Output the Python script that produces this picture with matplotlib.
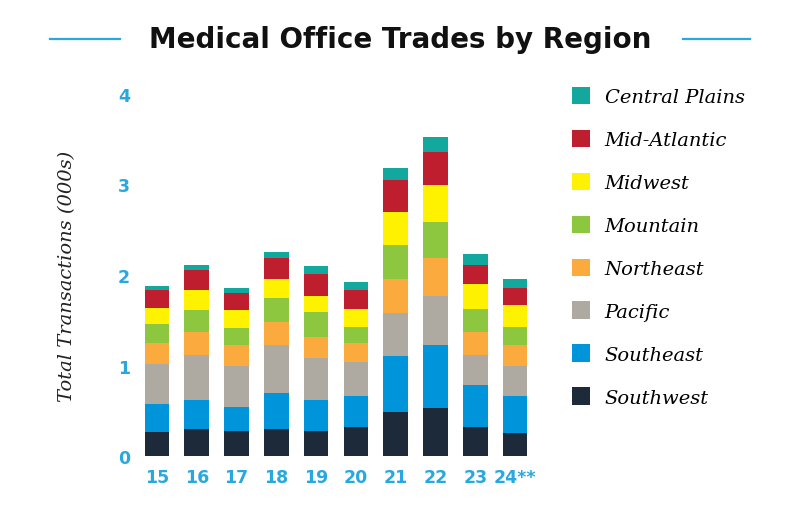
import matplotlib
matplotlib.use("Agg")
import matplotlib.pyplot as plt
import numpy as np
from matplotlib.lines import Line2D
from matplotlib.patches import Patch

years = ["15", "16", "17", "18", "19", "20", "21", "22", "23", "24**"]
regions = ["Southwest", "Southeast", "Pacific", "Northeast", "Mountain", "Midwest", "Mid-Atlantic", "Central Plains"]

southwest = [0.26, 0.30, 0.28, 0.30, 0.28, 0.32, 0.49, 0.53, 0.32, 0.25]
southeast = [0.32, 0.32, 0.26, 0.40, 0.34, 0.34, 0.61, 0.70, 0.47, 0.41]
pacific = [0.44, 0.50, 0.45, 0.53, 0.46, 0.38, 0.48, 0.54, 0.33, 0.33]
northeast = [0.23, 0.25, 0.24, 0.25, 0.23, 0.21, 0.38, 0.42, 0.25, 0.24]
mountain = [0.21, 0.24, 0.18, 0.27, 0.28, 0.18, 0.37, 0.40, 0.25, 0.20]
midwest = [0.18, 0.22, 0.20, 0.21, 0.18, 0.19, 0.37, 0.40, 0.28, 0.24]
mid_atlantic = [0.19, 0.22, 0.19, 0.23, 0.24, 0.21, 0.35, 0.37, 0.21, 0.19]
central_plains = [0.05, 0.06, 0.06, 0.06, 0.09, 0.09, 0.13, 0.16, 0.12, 0.10]

series = [southwest, southeast, pacific, northeast, mountain, midwest, mid_atlantic, central_plains]
colors = ["#1c2a39", "#0095da", "#aea9a1", "#fbab3e", "#8dc63f", "#fff200", "#be1e2d", "#13a89e"]

yticks = [0, 1, 2, 3, 4]
blue = "#29a8e0"

fig = plt.figure(figsize=(8, 5.06), dpi=100)
W, H = 800, 506
left_px, right_px = 137, 535
top_px, bottom_px = 95, 457
ax = fig.add_axes([left_px / W, 1 - bottom_px / H, (right_px - left_px) / W, (bottom_px - top_px) / H])

x = np.arange(len(years))
bottom = np.zeros(len(years))
for vals, c, name in zip(series, colors, regions):
    ax.bar(x, vals, bottom=bottom, width=0.62, color=c, edgecolor="none", label=name)
    bottom += np.array(vals)

ax.set_xlim(-0.5, len(years) - 0.5)
ax.set_ylim(0, 4)
for s in ax.spines.values():
    s.set_visible(False)
ax.set_xticks(x)
ax.set_xticklabels(years)
ax.set_yticks(yticks)
ax.set_yticklabels([str(t) for t in yticks])
ax.tick_params(length=0, labelsize=12.5, labelcolor=blue)
ax.tick_params(axis="x", pad=9)
ax.tick_params(axis="y", pad=5)
for lab in ax.get_xticklabels() + ax.get_yticklabels():
    lab.set_fontweight("bold")
    lab.set_family("DejaVu Sans")

ax.set_ylabel("Total Transactions (000s)", family="DejaVu Serif", style="italic",
              fontsize=14, color="#222222", labelpad=30)

# legend
leg_handles = [Patch(facecolor=c, edgecolor="none") for c in colors][::-1]
leg_labels = regions[::-1]
leg = fig.legend(leg_handles, leg_labels, loc="upper left", bbox_to_anchor=(554 / W, 1 - 70.5 / H),
                 frameon=False, handlelength=0.95, handleheight=1.0, handletextpad=0.75,
                 labelspacing=1.21, prop={"family": "DejaVu Serif", "style": "italic", "size": 14})

# title
fig.text(0.5, 1 - 40 / H, "Medical Office Trades by Region", ha="center", va="center",
         fontsize=20, fontweight="bold", family="DejaVu Sans", color="#111111")
fig.add_artist(Line2D([50 / W, 120 / W], [1 - 40 / H, 1 - 40 / H], color=blue, lw=1.6))
fig.add_artist(Line2D([683 / W, 750 / W], [1 - 40 / H, 1 - 40 / H], color=blue, lw=1.6))

fig.savefig("out.png", dpi=100)
